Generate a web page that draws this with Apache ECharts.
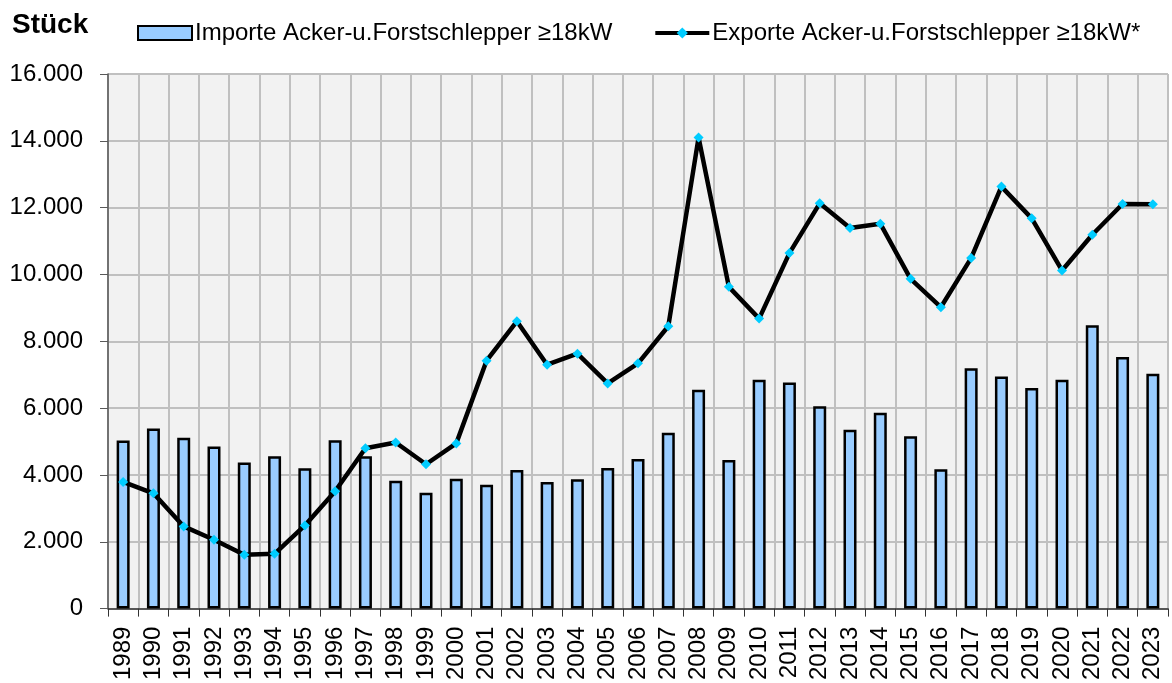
<!DOCTYPE html>
<html>
<head>
<meta charset="utf-8">
<script src="https://cdn.jsdelivr.net/npm/echarts@6/dist/echarts.min.js"></script>
<style>
  html, body { margin: 0; padding: 0; background: #ffffff; }
  #chart { width: 1172px; height: 683px; }
</style>
</head>
<body>
<div id="chart"></div>
<script>
const years = ['1989','1990','1991','1992','1993','1994','1995','1996','1997','1998','1999','2000','2001','2002','2003','2004','2005','2006','2007','2008','2009','2010','2011','2012','2013','2014','2015','2016','2017','2018','2019','2020','2021','2022','2023'];
const importe = [5030,5390,5110,4850,4370,4560,4200,5040,4560,3830,3470,3890,3710,4150,3790,3870,4210,4480,5260,6550,4450,6850,6770,6060,5350,5860,5160,4170,7190,6950,6600,6850,8480,7530,7030];
const exporte = [3790,3450,2460,2060,1610,1640,2490,3510,4800,4970,4320,4945,7420,8600,7300,7630,6740,7340,8450,14100,9630,8680,10640,12130,11390,11520,9870,9020,10490,12630,11680,10120,11190,12110,12100];
const importName = 'Importe Acker-u.Forstschlepper ≥18kW';
const exportName = 'Exporte Acker-u.Forstschlepper ≥18kW*';
const unitLabel = 'Stück';

const FONT = '"Liberation Sans", Arial, sans-serif';
const chart = echarts.init(document.getElementById('chart'), null, { renderer: 'canvas' });

function fmt(v) {
  return String(v).replace(/\B(?=(\d{3})+(?!\d))/g, '.');
}

chart.setOption({
  animation: false,
  backgroundColor: '#ffffff',
  textStyle: { fontFamily: FONT },
  title: {
    text: unitLabel,
    left: 12,
    top: 11,
    padding: 0,
    textStyle: { fontFamily: FONT, fontSize: 28, fontWeight: 'bold', color: '#000' }
  },
  legend: {
    left: 137,
    top: 21,
    padding: 0,
    itemWidth: 54,
    itemHeight: 14,
    itemGap: 41,
    textStyle: { fontFamily: FONT, fontSize: 24, color: '#000', padding: [0, 0, 0, -2] },
    data: [
      { name: importName, icon: 'rect' },
      { name: exportName, lineStyle: { width: 4, color: '#000' } }
    ]
  },
  grid: {
    left: 108,
    right: 4,
    top: 74,
    bottom: 74,
    show: true,
    backgroundColor: '#f2f2f2',
    borderWidth: 0
  },
  xAxis: {
    type: 'category',
    data: years,
    boundaryGap: true,
    axisLine: { show: true, lineStyle: { color: '#333', width: 1.5 } },
    axisTick: { show: true, length: 8, lineStyle: { color: '#333', width: 1 } },
    axisLabel: {
      rotate: 90,
      interval: 0,
      margin: 18,
      fontFamily: FONT,
      fontSize: 24,
      color: '#000'
    },
    splitLine: { show: true, interval: 0, lineStyle: { color: '#c0c0c0', width: 2 } }
  },
  yAxis: {
    type: 'value',
    min: 0,
    max: 16000,
    interval: 2000,
    axisLine: { show: true, lineStyle: { color: '#595959', width: 1.5 } },
    axisTick: { show: true, length: 8, lineStyle: { color: '#595959', width: 1 } },
    axisLabel: {
      margin: 25,
      fontFamily: FONT,
      fontSize: 24,
      color: '#000',
      formatter: fmt
    },
    splitLine: { show: true, lineStyle: { color: '#c0c0c0', width: 2 } }
  },
  series: [
    {
      name: importName,
      type: 'bar',
      data: importe,
      barWidth: 13,
      itemStyle: { color: '#99ccff', borderColor: '#000', borderWidth: 2.5 }
    },
    {
      name: exportName,
      type: 'line',
      data: exporte,
      symbol: 'diamond',
      symbolSize: 10,
      showAllSymbol: true,
      lineStyle: { color: '#000', width: 4.5 },
      itemStyle: { color: '#00ccff', borderWidth: 0 },
      z: 5
    }
  ]
});
</script>
</body>
</html>
